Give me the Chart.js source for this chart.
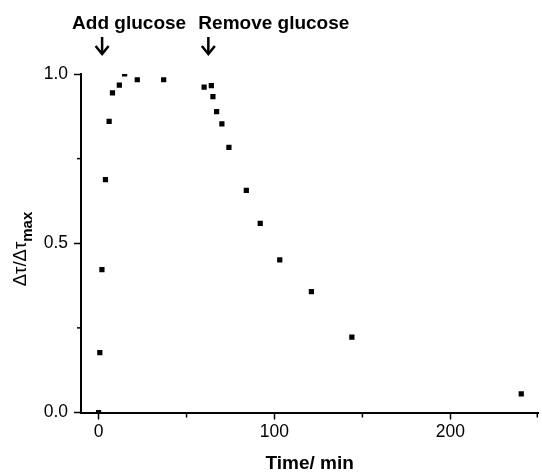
<!DOCTYPE html>
<html>
<head>
<meta charset="utf-8">
<script src="https://cdn.jsdelivr.net/npm/chart.js@4.4.1/dist/chart.umd.min.js"></script>
<style>
    html, body { margin: 0; padding: 0; background: #fff; }
    #wrap { width: 542px; height: 475px; }
</style>
</head>
<body>
<div id="wrap"><canvas id="chart" width="542" height="475"></canvas></div>
<script>
// time after start (min) and normalised signal change
const timeMin = [0, 0.7, 1.9, 3.9, 6.0, 7.9, 11.8, 14.8, 22.0, 37.0, 60.0, 64.1, 65.0, 67.1, 70.1, 74.1, 84.0, 91.9, 103.0, 121.0, 144.0, 240.3];
const ratio = [0, 0.177, 0.422, 0.688, 0.860, 0.944, 0.967, 1.0, 0.983, 0.983, 0.961, 0.966, 0.933, 0.889, 0.853, 0.783, 0.656, 0.559, 0.451, 0.357, 0.223, 0.055];

const xMajor = [0, 100, 200];
const xMinor = [50, 150, 250];
const yMajor = [0, 0.5, 1.0];
const yMinor = [0.25, 0.75];

// where the arrows point (min)
const events = [
    { t: 2, label: 'Add glucose', dx: -30 },
    { t: 62.4, label: 'Remove glucose', dx: -10 }
];

const points = timeMin.map((t, i) => ({ x: t, y: ratio[i] }));

const extras = {
    id: 'extras',
    afterDraw(chart) {
        const ctx = chart.ctx;
        const xs = chart.scales.x, ys = chart.scales.y;
        const area = chart.chartArea;
        ctx.save();
        ctx.strokeStyle = '#000';
        ctx.lineWidth = 1.5;
        // minor ticks
        xMinor.forEach(v => {
            const px = Math.min(xs.getPixelForValue(v), area.right - 1);
            ctx.beginPath();
            ctx.moveTo(px, area.bottom);
            ctx.lineTo(px, area.bottom + 5);
            ctx.stroke();
        });
        yMinor.forEach(v => {
            const py = ys.getPixelForValue(v);
            ctx.beginPath();
            ctx.moveTo(area.left, py);
            ctx.lineTo(area.left - 4, py);
            ctx.stroke();
        });

        // arrows and labels
        ctx.fillStyle = '#000';
        ctx.font = 'bold 19px "Liberation Sans", Arial, sans-serif';
        ctx.textBaseline = 'alphabetic';
        events.forEach(ev => {
            const px = xs.getPixelForValue(ev.t);
            ctx.fillText(ev.label, px + ev.dx, 29);
            ctx.lineWidth = 2.5;
            ctx.beginPath();
            ctx.moveTo(px, 37);
            ctx.lineTo(px, 54);
            ctx.stroke();
            ctx.beginPath();
            ctx.moveTo(px - 6.5, 46);
            ctx.lineTo(px, 54);
            ctx.lineTo(px + 6.5, 46);
            ctx.stroke();
        });

        // y axis title with subscript
        ctx.translate(26, 249);
        ctx.rotate(-Math.PI / 2);
        const main = '\u0394\u03c4/\u0394\u03c4';
        const sub = 'max';
        ctx.font = '18.5px "Liberation Sans", Arial, sans-serif';
        const wMain = ctx.measureText(main).width;
        ctx.font = 'bold 15px "Liberation Sans", Arial, sans-serif';
        const wSub = ctx.measureText(sub).width;
        const x0 = -(wMain + wSub) / 2;
        ctx.textAlign = 'left';
        ctx.font = '18.5px "Liberation Sans", Arial, sans-serif';
        ctx.fillText(main, x0, 0);
        ctx.font = 'bold 15px "Liberation Sans", Arial, sans-serif';
        ctx.fillText(sub, x0 + wMain, 6);
        ctx.restore();
    }
};

new Chart(document.getElementById('chart'), {
    type: 'scatter',
    data: {
        datasets: [{
            data: points,
            pointStyle: 'rect',
            pointRadius: 3.7,
            pointHoverRadius: 3.7,
            pointBorderWidth: 0,
            backgroundColor: '#000',
            borderColor: '#000',
            clip: 0
        }]
    },
    options: {
        responsive: false,
        animation: false,
        layout: { padding: { top: 74, left: 0, right: 0, bottom: 0 } },
        plugins: {
            legend: { display: false },
            tooltip: { enabled: false }
        },
        scales: {
            x: {
                type: 'linear',
                min: -10,
                max: 250,
                afterBuildTicks: s => { s.ticks = xMajor.map(v => ({ value: v })); },
                afterFit: s => { s.height = 62.5; },
                grid: { display: true, drawOnChartArea: false, drawTicks: true, tickLength: 7, tickColor: '#000', tickWidth: 1.5 },
                border: { display: true, color: '#000', width: 2 },
                ticks: { color: '#000', padding: 2, font: { family: '"Liberation Sans", Arial, sans-serif', size: 17.5 } },
                title: {
                    display: true,
                    text: 'Time/ min',
                    color: '#000',
                    padding: { top: 9, bottom: 0 },
                    font: { family: '"Liberation Sans", Arial, sans-serif', size: 19, weight: 'bold' }
                }
            },
            y: {
                type: 'linear',
                min: 0,
                max: 1.0,
                afterBuildTicks: s => { s.ticks = yMajor.map(v => ({ value: v })); },
                afterFit: s => { s.width = 81; },
                grid: { display: true, drawOnChartArea: false, drawTicks: true, tickLength: 7, tickColor: '#000', tickWidth: 1.5 },
                border: { display: true, color: '#000', width: 2 },
                ticks: {
                    color: '#000',
                    padding: 6,
                    font: { family: '"Liberation Sans", Arial, sans-serif', size: 17.5 },
                    callback: v => v.toFixed(1)
                }
            }
        }
    },
    plugins: [extras]
});
</script>
</body>
</html>
